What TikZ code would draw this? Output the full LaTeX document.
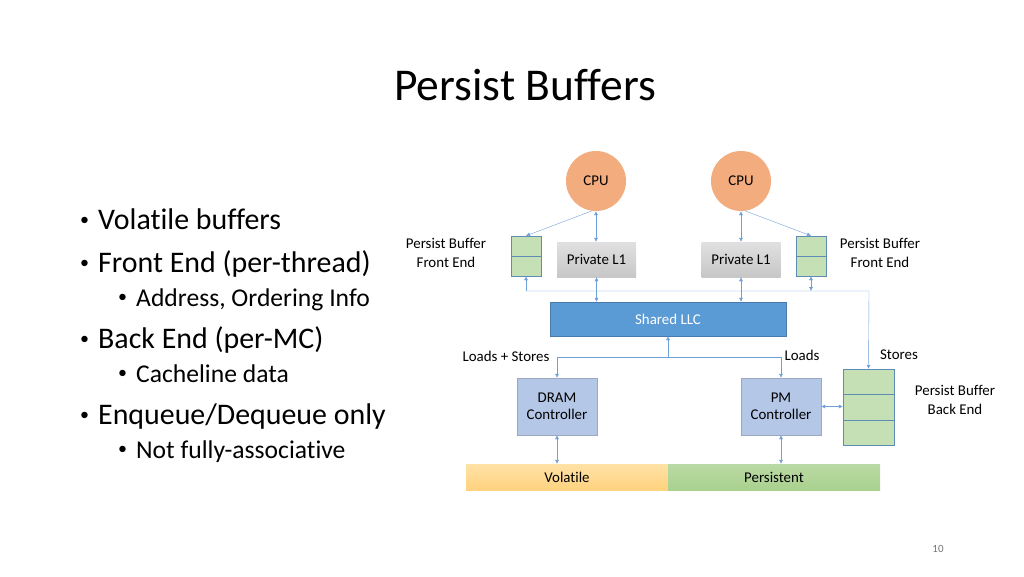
\documentclass[tikz,border=0pt]{standalone}
\usepackage{fontspec}
\setmainfont{Carlito}[Ligatures=NoCommon]
\definecolor{wire}{HTML}{6FA0D8}
\definecolor{edge}{HTML}{5E8CB5}
\definecolor{cpuorange}{HTML}{F2AC7E}
\definecolor{bufgreen}{HTML}{C5E0B4}
\definecolor{llcblue}{HTML}{5B9BD5}
\definecolor{ctrlblue}{HTML}{B4C7E7}
\definecolor{memgreen}{HTML}{A9D18E}
\definecolor{volhi}{HTML}{FFE2A6}
\definecolor{vollo}{HTML}{FFD27E}
\usetikzlibrary{arrows.meta,positioning,calc}
\newcommand\bul{\llap{\raisebox{0.12em}{\fontsize{18}{18}\selectfont\textbullet}\hspace{9pt}}}
\tikzset{
  box/.style={draw=edge,thin,align=center,inner sep=2pt,
              font=\fontsize{14.9}{17}\selectfont},
  cpu/.style={circle,fill=cpuorange,minimum size=60pt,inner sep=0,
              font=\fontsize{14.9}{17}\selectfont},
  febuf/.style={box,fill=bufgreen,minimum width=30pt,minimum height=40pt},
  cache/.style={box,draw=none,top color=black!12,bottom color=black!22,
                minimum width=79pt,minimum height=35pt},
  ctrl/.style={box,draw=ctrlblue!80!black!90,fill=ctrlblue,
               minimum width=80pt,minimum height=57pt},
  lbl/.style={align=center,font=\fontsize{14.9}{18.5}\selectfont},
  arr/.style={-{Latex[length=4pt,width=4pt]},wire,thin},
  darr/.style={{Latex[length=4pt,width=4pt]}-{Latex[length=4pt,width=4pt]},wire,thin},
  item/.style={anchor=base west,inner sep=0,font=\fontsize{29.9}{34}\selectfont},
  subitem/.style={anchor=base west,inner sep=0,font=\fontsize{25.6}{30}\selectfont}
}
\begin{document}
\begin{tikzpicture}[x=1pt,y=-1pt]
    \useasboundingbox (0,0) rectangle (1024,576);
    % title and bullets
    \node[anchor=base,font=\fontsize{45.5}{52}\selectfont] (title) at (525,100) {Persist Buffers};
    \node[item] (b1) at (98,229) {\bul Volatile buffers};
    \node[item] (b2) at (98,272) {\bul Front End (per-thread)};
    \node[subitem] (s1) at (136,306) {\bul Address, Ordering Info};
    \node[item] (b3) at (98,348) {\bul Back End (per-MC)};
    \node[subitem] (s2) at (136,382) {\bul Cacheline data};
    \node[item] (b4) at (98,424) {\bul Enqueue/Dequeue only};
    \node[subitem] (s3) at (136,458) {\bul Not fully-associative};
    % processors and caches
    \node[cpu] (cpuL) at (596,181) {CPU};
    \node[cpu] (cpuR) at (741,181) {CPU};
    \node[febuf] (feL) at (526,256) {};
    \node[febuf] (feR) at (811,256) {};
    \draw[edge] (feL.west) -- (feL.east);
    \draw[edge] (feR.west) -- (feR.east);
    \node[cache] (l1L) at (596.5,259.5) {Private L1};
    \node[cache] (l1R) at (741,259.5) {Private L1};
    \node[lbl] (feLlbl) at (446,253) {Persist Buffer\\Front End};
    \node[lbl] (feRlbl) at (880,253) {Persist Buffer\\Front End};
    \node[box,draw=llcblue!80!black,fill=llcblue,text=white,minimum width=236pt,
          minimum height=34pt] (llc) at (668,319) {Shared LLC};
    % memory side
    \node[ctrl] (dram) at (557,406.5) {DRAM\\Controller};
    \node[ctrl] (pm) at (781,406.5) {PM\\Controller};
    \node[box,fill=bufgreen,minimum width=51pt,minimum height=76pt] (be) at (868.5,407) {};
    \draw[edge] ($(be.north west)!1/3!(be.south west)$) -- ($(be.north east)!1/3!(be.south east)$);
    \draw[edge] ($(be.north west)!2/3!(be.south west)$) -- ($(be.north east)!2/3!(be.south east)$);
    \node[lbl] (belbl) at (955,400) {Persist Buffer\\Back End};
    \node[box,draw=none,top color=volhi,bottom color=vollo,
          minimum width=202pt,minimum height=26pt] (vol) at (567,477) {Volatile};
    \node[box,draw=none,top color=memgreen!80,bottom color=memgreen,
          minimum width=212pt,minimum height=26pt] (pers) at (774,477) {Persistent};
    \node[lbl] (lslbl) at (506,356) {Loads + Stores};
    \node[lbl] (ldlbl) at (802,355) {Loads};
    \node[lbl] (stlbl) at (899,355) {Stores};
    \node[text=black!55,font=\fontsize{11}{13}\selectfont] (page) at (938,549) {10};
    % connectors
    \coordinate (busR) at (869,291);
    \coordinate (mid) at (668,357);
    \draw[darr] (cpuL.south) -- (l1L.north -| cpuL.south);
    \draw[darr] (cpuR.south) -- (l1R.north -| cpuR.south);
    \draw[arr] (cpuL.262) -- (feL.north);
    \draw[arr] (cpuR.278) -- (feR.north);
    \draw[darr] (l1L.south) -- (l1L.south |- llc.north);
    \draw[darr] (l1R.south) -- (l1R.south |- llc.north);
    \draw[arr] (feL.south |- busR) -- (feL.south);
    \draw[arr] (feL.south |- busR) -- (busR) -- (be.north);
    \draw[darr] (feR.south) -- (feR.south |- busR);
    \draw[arr] (mid) -- (llc.south);
    \draw[arr] (mid) -| (dram.north);
    \draw[arr] (mid) -| (pm.north);
    \draw[darr] (pm.east) -- (be.west |- pm.east);
    \draw[darr] (dram.south) -- (dram.south |- vol.north);
    \draw[darr] (pm.south) -- (pm.south |- pers.north);
\end{tikzpicture}
\end{document}
